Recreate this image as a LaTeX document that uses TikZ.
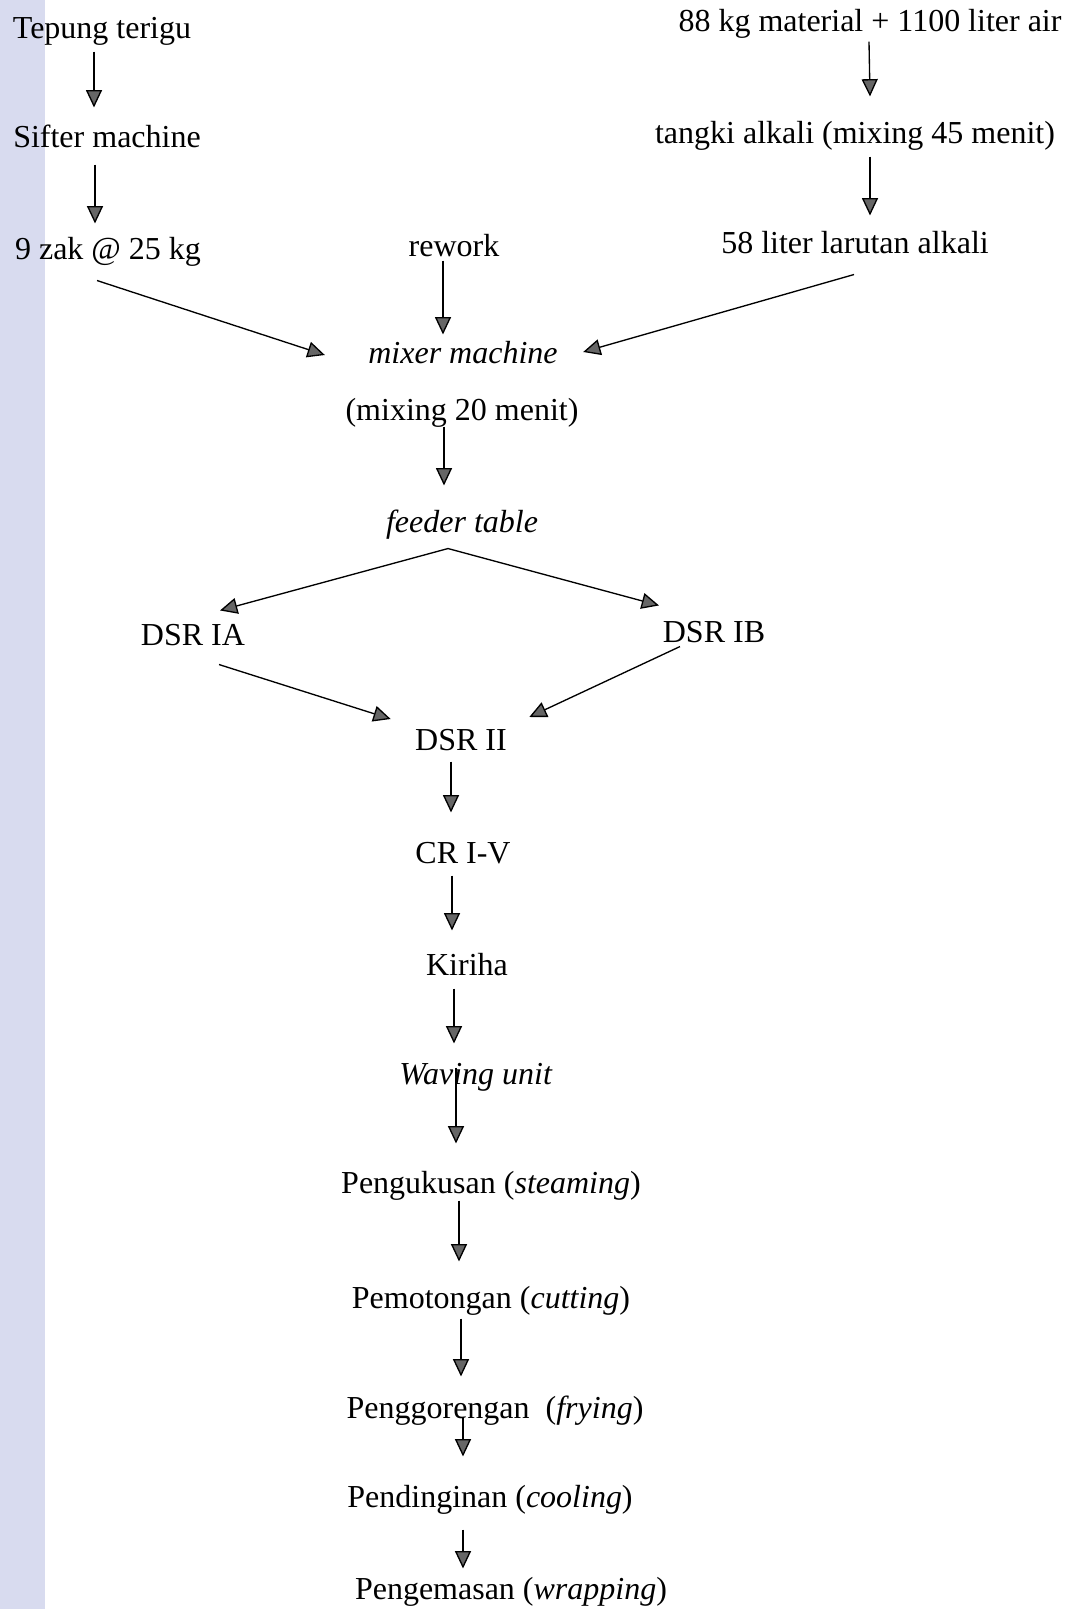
\documentclass[tikz,border=0pt]{standalone}
\usepackage{fontspec}
\setmainfont{Liberation Serif}
\usetikzlibrary{arrows.meta,calc}
\definecolor{stripblue}{RGB}{216,219,239}
\tikzset{
	box/.style={inner sep=0pt, text height=10pt, text depth=2pt, font=\fontsize{12}{14}\selectfont},
	arr/.style={-{Triangle[length=6.5pt,width=6pt,fill=black!60]}, line width=0.5pt}
}
\begin{document}
\begin{tikzpicture}[x=0.375pt, y=-0.375pt]
		\useasboundingbox (0,0) rectangle (1073,1609);
		\fill[stripblue] (0,0) rectangle (45,1609);
		% bahan baku
		\node[box] (tepung) at (102,28) {Tepung terigu};
		\node[box] (sifter) at (107,137) {Sifter machine};
		\node[box] (zak) at (108,249) {9 zak @ 25 kg};
		\node[box] (rework) at (454,246) {rework};
		\node[box] (bahan) at (870,21) {88 kg material + 1100 liter air};
		\node[box] (tangki) at (855,133) {tangki alkali (mixing 45 menit)};
		\node[box] (larutan) at (855,243) {58 liter larutan alkali};
		% proses
		\node[box] (mixer) at (463,353) {\textit{mixer machine}};
		\node[box] (mix20) at (462,410) {(mixing 20 menit)};
		\node[box] (feeder) at (462,522) {\textit{feeder table}};
		\node[box] (dsra) at (193,635) {DSR IA};
		\node[box] (dsrb) at (714,632) {DSR IB};
		\node[box] (dsrii) at (461,740) {DSR II};
		\node[box] (cr) at (463,853) {CR I-V};
		\node[box] (kiriha) at (467,965) {Kiriha};
		\node[box] (waving) at (476,1074) {\textit{Waving unit}};
		\node[box] (kukus) at (491,1183) {Pengukusan (\textit{steaming})};
		\node[box] (potong) at (491,1298) {Pemotongan (\textit{cutting})};
		\node[box] (goreng) at (495,1408) {Penggorengan~ (\textit{frying})};
		\node[box] (dingin) at (490,1497) {Pendinginan (\textit{cooling})};
		\node[box] (kemas) at (511,1589) {Pengemasan (\textit{wrapping})};
		% panah
		\draw[arr] ($(tepung.south)+(-8,7)$) -- ($(sifter.north)+(-13,-13)$);
		\draw[arr] ($(sifter.south)+(-12,11)$) -- ($(zak.north)+(-13,-9)$);
		\draw[arr] ($(bahan.south)+(-1,4)$) -- ($(tangki.north)+(15,-20)$);
		\draw[arr] ($(tangki.south)+(15,7)$) -- ($(larutan.north)+(15,-11)$);
		\draw[arr] ($(rework.south)+(-11,-2)$) -- ($(mixer.north)+(-20,-2)$);
		\draw[arr] ($(zak.south)+(-11,15)$) -- ($(mixer.west)+(-43,2)$);
		\draw[arr] ($(larutan.south)+(-1,15)$) -- ($(mixer.east)+(25,-1)$);
		\draw[arr] ($(mix20.south)+(-18,0)$) -- ($(feeder.north)+(-18,-20)$);
		\draw[arr] ($(feeder.south)+(-14,10)$) -- ($(dsra.north)+(27,-8)$);
		\draw[arr] ($(feeder.south)+(-14,10)$) -- ($(dsrb.north)+(-55,-10)$);
		\draw[arr] ($(dsra.south)+(26,13)$) -- ($(dsrii.west)+(-24,-21)$);
		\draw[arr] ($(dsrb.south)+(-34,-2)$) -- ($(dsrii.east)+(22,-23)$);
		\draw[arr] ($(dsrii.south)+(-10,5)$) -- ($(cr.north)+(-12,-24)$);
		\draw[arr] ($(cr.south)+(-11,6)$) -- ($(kiriha.north)+(-15,-18)$);
		\draw[arr] ($(kiriha.south)+(-13,7)$) -- ($(waving.north)+(-22,-14)$);
		\draw[arr] ($(waving.south)+(-20,-23)$) -- ($(kukus.north)+(-35,-23)$);
		\draw[arr] ($(kukus.south)+(-32,1)$) -- ($(potong.north)+(-32,-20)$);
		\draw[arr] ($(potong.south)+(-30,4)$) -- ($(goreng.north)+(-34,-15)$);
		\draw[arr] ($(goreng.south)+(-32,-8)$) -- ($(dingin.north)+(-27,-24)$);
		\draw[arr] ($(dingin.south)+(-27,16)$) -- ($(kemas.north)+(-48,-4)$);
	\end{tikzpicture}
\end{document}
